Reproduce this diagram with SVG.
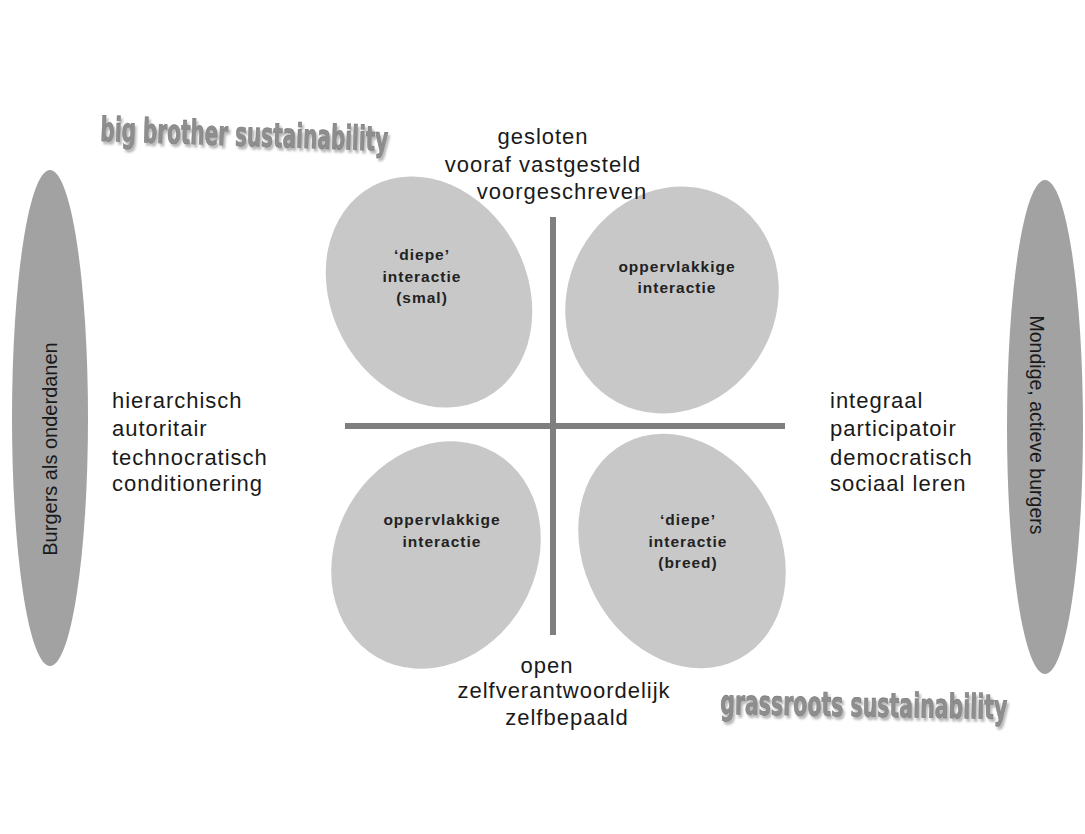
<svg xmlns="http://www.w3.org/2000/svg" width="1085" height="834" viewBox="0 0 1085 834">
  <defs>
    <style>
      .quad { fill: #c8c8c8; }
      .side { fill: #a2a2a2; }
      .axis { stroke: #7f7f7f; stroke-width: 6; fill: none; }
      .lbl { font-family: "Liberation Sans", Arial, sans-serif; font-size: 22px; fill: #1a1a1a; letter-spacing: 1px; }
      .in { font-family: "Liberation Sans", Arial, sans-serif; font-size: 15.5px; font-weight: bold; fill: #222; letter-spacing: 1px; text-anchor: middle; }
      .side-t { font-family: "Liberation Sans", Arial, sans-serif; font-size: 20px; fill: #1a1a1a; text-anchor: middle; dominant-baseline: central; }
      .art { font-family: "Liberation Sans Narrow", "DejaVu Sans Condensed", "Liberation Sans", sans-serif; font-size: 34px; font-weight: bold; fill: #8e8e8e; stroke: #7a7a7a; stroke-width: 0.6; }
      .wordart { filter: url(#shadow); }
    </style>
    <filter id="shadow" filterUnits="userSpaceOnUse" x="0" y="0" width="1085" height="834">
      <feGaussianBlur in="SourceAlpha" stdDeviation="1.2" result="b"/>
      <feOffset in="b" dx="2" dy="3" result="o"/>
      <feFlood flood-color="#b8b8b8"/>
      <feComposite in2="o" operator="in" result="s"/>
      <feMerge>
        <feMergeNode in="s"/>
        <feMergeNode in="SourceGraphic"/>
      </feMerge>
    </filter>
  </defs>
  <rect width="1085" height="834" fill="#ffffff"/>

  <g id="title-big-brother" class="wordart">
    <text class="art" x="100" y="146" textLength="288" lengthAdjust="spacingAndGlyphs" transform="rotate(2 244 146)">big brother sustainability</text>
  </g>
  <g id="title-grassroots" class="wordart">
    <text class="art" x="0" y="0" transform="translate(720 714) rotate(1) scale(0.67 1)">grassroots sustainability</text>
  </g>

  <g id="side-left">
    <ellipse class="side" cx="50" cy="418" rx="38" ry="248"/>
    <text class="side-t" transform="translate(50 449) rotate(-90)">Burgers als onderdanen</text>
  </g>
  <g id="side-right">
    <ellipse class="side" cx="1045" cy="427" rx="38" ry="247"/>
    <text class="side-t" style="font-size:19.5px" transform="translate(1037 425) rotate(90)">Mondige, actieve burgers</text>
  </g>

  <g id="quadrant-tl">
    <ellipse class="quad" cx="0" cy="0" rx="98" ry="120" transform="translate(429 292) rotate(-28)"/>
    <text class="in" x="422" y="260">‘diepe’</text>
    <text class="in" x="422" y="282">interactie</text>
    <text class="in" x="422" y="303">(smal)</text>
  </g>
  <g id="quadrant-tr">
    <ellipse class="quad" cx="0" cy="0" rx="104" ry="116" transform="translate(672 300) rotate(28)"/>
    <text class="in" x="677" y="272">oppervlakkige</text>
    <text class="in" x="677" y="293">interactie</text>
  </g>
  <g id="quadrant-bl">
    <ellipse class="quad" cx="0" cy="0" rx="100" ry="118" transform="translate(436 555) rotate(30)"/>
    <text class="in" x="442" y="525">oppervlakkige</text>
    <text class="in" x="442" y="547">interactie</text>
  </g>
  <g id="quadrant-br">
    <ellipse class="quad" cx="0" cy="0" rx="98" ry="122" transform="translate(682 551) rotate(-28)"/>
    <text class="in" x="688" y="525">‘diepe’</text>
    <text class="in" x="688" y="547">interactie</text>
    <text class="in" x="688" y="568">(breed)</text>
  </g>

  <g id="connectors">
    <line class="axis" x1="553" y1="217" x2="553" y2="635"/>
    <line class="axis" x1="345" y1="426" x2="785" y2="426"/>
  </g>

  <g id="label-top">
    <text class="lbl" x="543" y="144" text-anchor="middle">gesloten</text>
    <text class="lbl" x="543" y="172" text-anchor="middle">vooraf vastgesteld</text>
    <text class="lbl" x="562" y="199" text-anchor="middle">voorgeschreven</text>
  </g>
  <g id="label-bottom">
    <text class="lbl" x="547" y="673" text-anchor="middle">open</text>
    <text class="lbl" x="564" y="698" text-anchor="middle">zelfverantwoordelijk</text>
    <text class="lbl" x="567" y="725" text-anchor="middle">zelfbepaald</text>
  </g>
  <g id="label-left">
    <text class="lbl" x="112" y="408">hierarchisch</text>
    <text class="lbl" x="112" y="436">autoritair</text>
    <text class="lbl" x="112" y="465">technocratisch</text>
    <text class="lbl" x="112" y="491">conditionering</text>
  </g>
  <g id="label-right">
    <text class="lbl" x="830" y="408">integraal</text>
    <text class="lbl" x="830" y="436">participatoir</text>
    <text class="lbl" x="830" y="465">democratisch</text>
    <text class="lbl" x="830" y="491">sociaal leren</text>
  </g>
</svg>
